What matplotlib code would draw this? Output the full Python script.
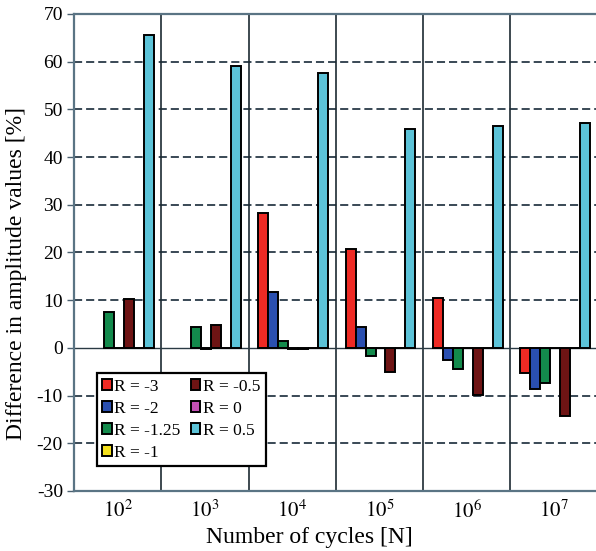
import matplotlib
matplotlib.use("Agg")
import matplotlib.pyplot as plt
import numpy as np

plt.rcParams["font.family"] = ["Liberation Serif", "DejaVu Serif"]
plt.rcParams["mathtext.fontset"] = "stix"
plt.rcParams["axes.unicode_minus"] = False

# Number of cycles (tick labels) and amplitude differences per stress ratio R
cycles = [r"$10^{2}$", r"$10^{3}$", r"$10^{4}$", r"$10^{5}$", r"$10^{6}$", r"$10^{7}$"]
series_labels = ["R = -3", "R = -2", "R = -1.25", "R = -1", "R = -0.5", "R = 0", "R = 0.5"]
nan = float("nan")
r_m3 = [nan, nan, 28.3, 20.8, 10.5, -5.2]
r_m2 = [nan, nan, 11.8, 4.3, -2.6, -8.7]
r_m125 = [7.5, 4.4, 1.5, -1.8, -4.4, -7.4]
r_m1 = [0.0, -0.2, -0.2, 0.0, 0.0, 0.0]
r_m05 = [10.2, 4.9, -0.3, -5.0, -9.8, -14.2]
r_0 = [0.0, 0.0, 0.0, 0.0, 0.0, 0.0]
r_05 = [65.7, 59.0, 57.7, 45.8, 46.5, 47.1]

series = [r_m3, r_m2, r_m125, r_m1, r_m05, r_0, r_05]
colors = ["#ee2a24", "#2a4fb0", "#138a4c", "#f4e01c", "#6e1414", "#c450b4", "#5cc3d8"]

fig = plt.figure(figsize=(5.96, 5.51), dpi=100)
ax = fig.add_axes([0.1242, 0.1089, 0.8785, 0.8657])

x = np.arange(len(cycles))
w = 0.114
for i, (vals, lab, col) in enumerate(zip(series, series_labels, colors)):
    ax.bar(x + (i - 3) * w + 0.012, vals, width=w, color=col, edgecolor="black",
           linewidth=1.4, label=lab, zorder=3)

ax.set_xlim(-0.5, 5.5)
ax.set_ylim(-30, 70)
ax.set_yticks(np.arange(-30, 71, 10))
ax.set_xticks(x)
ax.set_xticklabels(cycles, fontsize=15)
ax.tick_params(axis="x", length=0, pad=7)
ax.tick_params(axis="y", labelsize=14, length=5, width=1, color="#4a6070", pad=3)

# horizontal dashed grid, solid zero line, vertical group separators
for yv in range(-20, 70, 10):
    if yv == 0:
        ax.axhline(0, color="#2a3a44", linewidth=1.0, zorder=2)
    else:
        ax.axhline(yv, color="#2a3a48", linewidth=1.3, linestyle=(0, (4.5, 2.2)), zorder=1)
for xv in np.arange(0.5, 5.5, 1.0):
    ax.axvline(xv, color="#1c2a32", linewidth=1.2, zorder=1)

for side in ["left", "bottom", "top"]:
    ax.spines[side].set_color("#5a7484")
    ax.spines[side].set_linewidth(1.6)
ax.spines["right"].set_visible(False)

ax.set_xlabel("Number of cycles [N]", fontsize=17)
ax.set_ylabel("Difference in amplitude values [%]", fontsize=17)
ax.xaxis.set_label_coords(0.449, -0.075)
ax.yaxis.set_label_coords(-0.089, 0.456)

leg = ax.legend(ncol=2, loc="lower left", bbox_to_anchor=(0.0436, 0.0524),
                borderaxespad=0, fontsize=12.5, frameon=True, fancybox=False,
                handlelength=0.55, handleheight=0.55, handletextpad=0.15,
                labelspacing=0.35, columnspacing=0.6, borderpad=0.3)
leg.get_frame().set_edgecolor("black")
leg.get_frame().set_linewidth(1.6)
leg.get_frame().set_alpha(1)
leg.set_zorder(5)

fig.savefig("out.png", dpi=100, facecolor="white")
